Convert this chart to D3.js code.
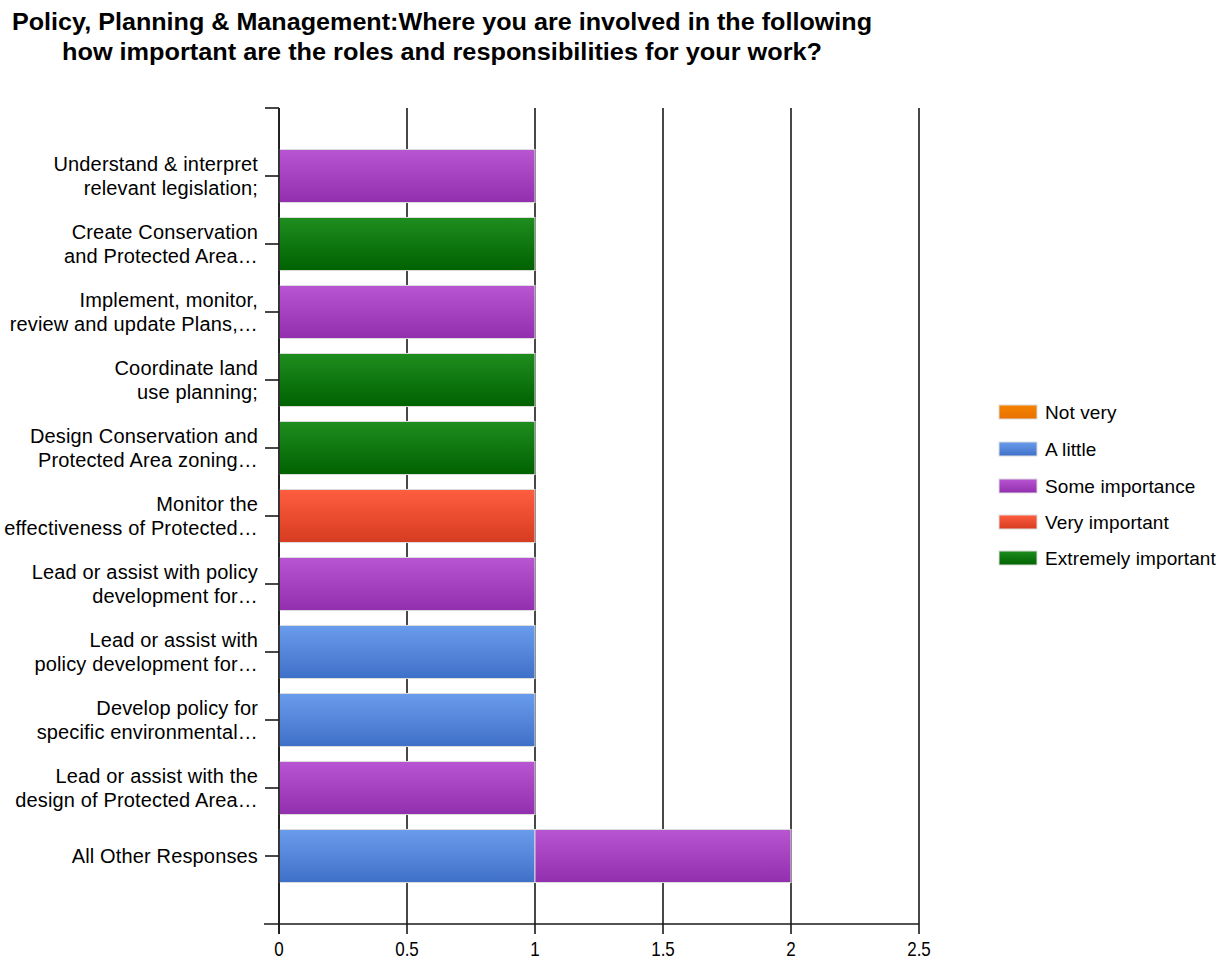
<!DOCTYPE html>
<html>
<head>
<meta charset="utf-8">
<script src="https://cdn.jsdelivr.net/npm/d3@7"></script>
<style>
  html, body { margin: 0; padding: 0; background: #fff; }
  svg { display: block; }
  text { font-family: "Liberation Sans", Arial, sans-serif; fill: #000; }
</style>
</head>
<body>
<svg id="chart" width="1218" height="959"></svg>
<script>
// Survey question and answer categories
const titleLines = [
  "Policy, Planning & Management:Where you are involved in the following",
  "how important are the roles and responsibilities for your work?"
];

const categories = [
  ["Understand & interpret", "relevant legislation;"],
  ["Create Conservation", "and Protected Area\u2026"],
  ["Implement, monitor,", "review and update Plans,\u2026"],
  ["Coordinate land", "use planning;"],
  ["Design Conservation and", "Protected Area zoning\u2026"],
  ["Monitor the", "effectiveness of Protected\u2026"],
  ["Lead or assist with policy", "development for\u2026"],
  ["Lead or assist with", "policy development for\u2026"],
  ["Develop policy for", "specific environmental\u2026"],
  ["Lead or assist with the", "design of Protected Area\u2026"],
  ["All Other Responses"]
];

const seriesNames = ["Not very", "A little", "Some importance", "Very important", "Extremely important"];

// Response counts per category, one array per series
const notVery            = [0, 0, 0, 0, 0, 0, 0, 0, 0, 0, 0];
const aLittle            = [0, 0, 0, 0, 0, 0, 0, 1, 1, 0, 1];
const someImportance     = [1, 0, 1, 0, 0, 0, 1, 0, 0, 1, 1];
const veryImportant      = [0, 0, 0, 0, 0, 1, 0, 0, 0, 0, 0];
const extremelyImportant = [0, 1, 0, 1, 1, 0, 0, 0, 0, 0, 0];

const xTicks = [0, 0.5, 1, 1.5, 2, 2.5];

// Gradient stops (top, bottom) for each series
const seriesColors = [
  ["#f58400", "#e87000"],
  ["#6a9cec", "#3f70c8"],
  ["#b855d2", "#922fae"],
  ["#ff5d40", "#d63c20"],
  ["#1f8d1f", "#006200"]
];

const seriesValues = [notVery, aLittle, someImportance, veryImportant, extremelyImportant];

const svg = d3.select("#chart");
const margin = { left: 279, right: 299, top: 108, bottom: 35 };
const W = 1218, H = 959;
const plotBottom = H - margin.bottom; // 924
const plotRight = W - margin.right;   // 919

const keys = categories.map((c, i) => i);
const rows = keys.map(i => {
  const r = { idx: i };
  seriesNames.forEach((s, j) => { r[s] = seriesValues[j][i]; });
  return r;
});
const stacked = d3.stack().keys(seriesNames)(rows);

const x = d3.scaleLinear().domain([0, 2.5]).range([margin.left, plotRight]);
const y = d3.scaleBand().domain(keys).range([margin.top, plotBottom])
  .paddingInner(0.22).paddingOuter(0.61);

// Gradients
const defs = svg.append("defs");
seriesNames.forEach((s, j) => {
  const g = defs.append("linearGradient").attr("id", "grad" + j)
    .attr("x1", 0).attr("y1", 0).attr("x2", 0).attr("y2", 1);
  g.append("stop").attr("offset", "0%").attr("stop-color", seriesColors[j][0]);
  g.append("stop").attr("offset", "100%").attr("stop-color", seriesColors[j][1]);
});

// Title
const titleWidths = [860, 760];
svg.append("g").selectAll("text").data(titleLines).join("text")
  .attr("x", 442).attr("y", (d, i) => 30 + i * 30)
  .attr("text-anchor", "middle")
  .attr("textLength", (d, i) => titleWidths[i])
  .attr("lengthAdjust", "spacingAndGlyphs")
  .style("font-weight", "bold").style("font-size", "23px")
  .text(d => d);

// Vertical gridlines (with ticks extending below the x-axis)
svg.append("g").selectAll("line").data(xTicks).join("line")
  .attr("x1", d => x(d)).attr("x2", d => x(d))
  .attr("y1", margin.top).attr("y2", plotBottom + 10)
  .attr("stroke", "#1a1a1a").attr("stroke-width", 1.6);

// Bars
svg.append("g").selectAll("g").data(stacked).join("g")
  .attr("fill", (d, j) => `url(#grad${j})`)
  .selectAll("rect").data(d => d.filter(p => p[1] - p[0] > 0)).join("rect")
  .attr("x", d => x(d[0]))
  .attr("y", d => y(d.data.idx))
  .attr("width", d => x(d[1]) - x(d[0]))
  .attr("height", y.bandwidth())
  .attr("stroke", "#dcdcdc").attr("stroke-width", 1);

// Y axis: line, top tick and category ticks
const yAxis = svg.append("g");
yAxis.append("line")
  .attr("x1", margin.left).attr("x2", margin.left)
  .attr("y1", margin.top).attr("y2", plotBottom + 10)
  .attr("stroke", "#1a1a1a").attr("stroke-width", 1.6);
yAxis.append("line")
  .attr("x1", margin.left - 14).attr("x2", margin.left)
  .attr("y1", margin.top).attr("y2", margin.top)
  .attr("stroke", "#1a1a1a").attr("stroke-width", 1.6);
yAxis.selectAll("line.tick").data(keys).join("line").attr("class", "tick")
  .attr("x1", margin.left - 14).attr("x2", margin.left)
  .attr("y1", d => y(d) + y.bandwidth() / 2).attr("y2", d => y(d) + y.bandwidth() / 2)
  .attr("stroke", "#1a1a1a").attr("stroke-width", 1.6);

const labels = yAxis.selectAll("text").data(keys).join("text")
  .attr("text-anchor", "end")
  .style("font-size", "20px").style("letter-spacing", "0.15px")
  .attr("transform", d => `translate(258,${y(d) + y.bandwidth() / 2})`);
labels.selectAll("tspan").data(d => categories[d].map((t, k, arr) => ({ t, k, n: arr.length })))
  .join("tspan")
  .attr("x", 0)
  .attr("y", d => (d.k - (d.n - 1) / 2) * 24 + 7)
  .text(d => d.t);

// X axis baseline and tick labels
svg.append("line")
  .attr("x1", margin.left - 15).attr("x2", plotRight)
  .attr("y1", plotBottom).attr("y2", plotBottom)
  .attr("stroke", "#1a1a1a").attr("stroke-width", 1.6);
svg.append("g").selectAll("text").data(xTicks).join("text")
  .attr("text-anchor", "middle")
  .attr("transform", d => `translate(${x(d)},956) scale(1,1.2)`)
  .style("font-size", "17px")
  .text(d => d3.format("")(d));

// Legend
const legend = svg.append("g").attr("transform", "translate(999,0)");
const legendY = [412, 449, 486, 522, 558];
const li = legend.selectAll("g").data(seriesNames).join("g")
  .attr("transform", (d, i) => `translate(0,${legendY[i]})`);
li.append("rect").attr("x", 0).attr("y", -7).attr("width", 38).attr("height", 14)
  .attr("fill", (d, i) => `url(#grad${i})`)
  .attr("stroke", "#dcdcdc").attr("stroke-width", 1);
li.append("text").attr("x", 46).attr("y", 7)
  .style("font-size", "19px").style("letter-spacing", "0.1px")
  .text(d => d);
</script>
</body>
</html>
